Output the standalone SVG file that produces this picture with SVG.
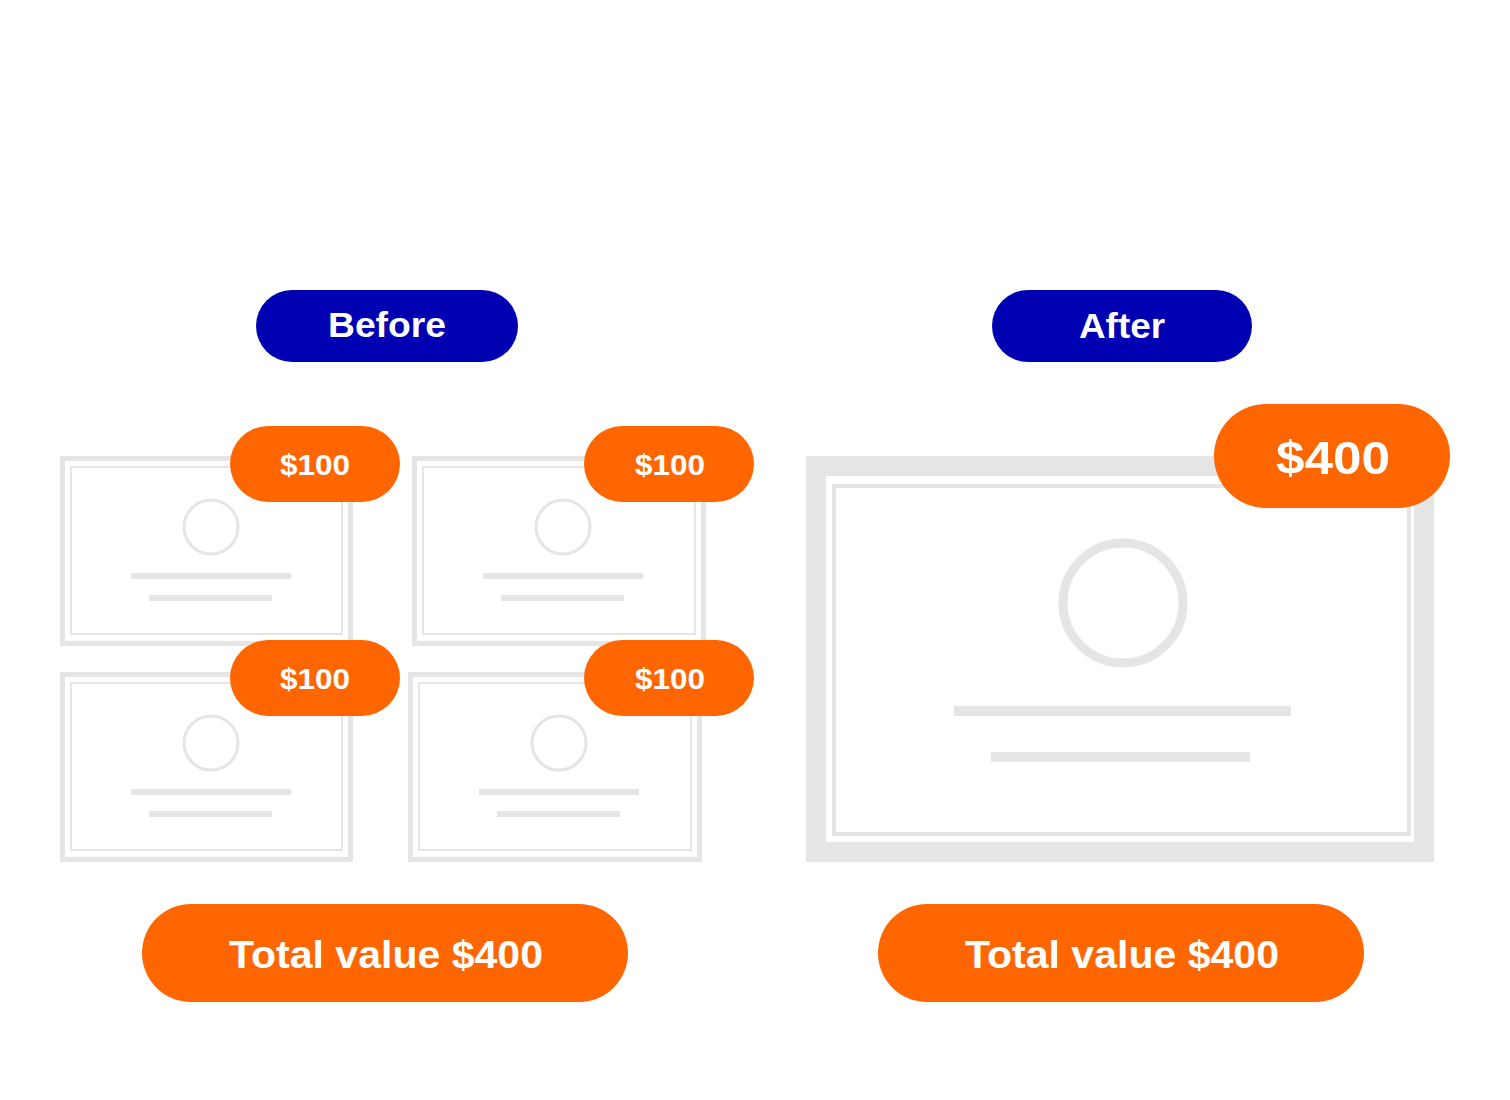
<svg xmlns="http://www.w3.org/2000/svg" width="1510" height="1100" viewBox="0 0 1510 1100">
<defs>
<style>
.frame{fill:none;stroke:#E5E5E5;stroke-width:5}
.inner{fill:none;stroke:#E5E5E5;stroke-width:2}
.ring{fill:none;stroke:#E5E5E5;stroke-width:3}
.bar{fill:#E5E5E5}
.orange{fill:#FF6600}
.blue{fill:#0000B3}
.t{fill:#FFFFFF;font-family:"Liberation Sans",Arial,sans-serif;font-weight:700;text-anchor:middle}
</style>
</defs>
<rect width="1510" height="1100" fill="#FFFFFF"/>
<g id="before-label">
<rect class="blue" x="256" y="290" width="262" height="72" rx="36"/>
<text class="t" x="387" y="337" font-size="35" textLength="118" lengthAdjust="spacingAndGlyphs">Before</text>
</g>
<g id="after-label">
<rect class="blue" x="992" y="290" width="260" height="72" rx="36"/>
<text class="t" x="1122" y="338" font-size="35" textLength="86" lengthAdjust="spacingAndGlyphs">After</text>
</g>
<g id="cert-1">
<rect class="frame" x="62.5" y="458.5" width="288" height="185"/>
<rect class="inner" x="71" y="467" width="271" height="167"/>
<circle class="ring" cx="211" cy="527" r="27"/>
<rect class="bar" x="131" y="573" width="160" height="6"/>
<rect class="bar" x="149" y="595" width="123" height="6"/>
</g>
<g id="cert-2">
<rect class="frame" x="414.5" y="458.5" width="289" height="185"/>
<rect class="inner" x="423" y="467" width="272" height="167"/>
<circle class="ring" cx="563" cy="527" r="27"/>
<rect class="bar" x="483" y="573" width="160" height="6"/>
<rect class="bar" x="501" y="595" width="123" height="6"/>
</g>
<g id="cert-3">
<rect class="frame" x="62.5" y="674.5" width="288" height="185"/>
<rect class="inner" x="71" y="683" width="271" height="167"/>
<circle class="ring" cx="211" cy="743" r="27"/>
<rect class="bar" x="131" y="789" width="160" height="6"/>
<rect class="bar" x="149" y="811" width="123" height="6"/>
</g>
<g id="cert-4">
<rect class="frame" x="410.5" y="674.5" width="289" height="185"/>
<rect class="inner" x="419" y="683" width="272" height="167"/>
<circle class="ring" cx="559" cy="743" r="27"/>
<rect class="bar" x="479" y="789" width="160" height="6"/>
<rect class="bar" x="497" y="811" width="123" height="6"/>
</g>
<g id="badge-1">
<rect class="orange" x="230" y="426" width="170" height="76" rx="38"/>
<text class="t" x="315" y="475" font-size="30" textLength="70" lengthAdjust="spacingAndGlyphs">$100</text>
</g>
<g id="badge-2">
<rect class="orange" x="584" y="426" width="170" height="76" rx="38"/>
<text class="t" x="670" y="475" font-size="30" textLength="70" lengthAdjust="spacingAndGlyphs">$100</text>
</g>
<g id="badge-3">
<rect class="orange" x="230" y="640" width="170" height="76" rx="38"/>
<text class="t" x="315" y="689" font-size="30" textLength="70" lengthAdjust="spacingAndGlyphs">$100</text>
</g>
<g id="badge-4">
<rect class="orange" x="584" y="640" width="170" height="76" rx="38"/>
<text class="t" x="670" y="689" font-size="30" textLength="70" lengthAdjust="spacingAndGlyphs">$100</text>
</g>
<g id="cert-large">
<rect x="816" y="466" width="608" height="386" fill="none" stroke="#E5E5E5" stroke-width="20"/>
<rect x="834" y="486" width="575" height="348" fill="none" stroke="#E5E5E5" stroke-width="4"/>
<circle cx="1123" cy="603" r="60" fill="none" stroke="#E5E5E5" stroke-width="9"/>
<rect class="bar" x="954" y="706" width="337" height="10"/>
<rect class="bar" x="991" y="752" width="259" height="10"/>
</g>
<g id="badge-large">
<rect class="orange" x="1214" y="404" width="236" height="104" rx="52"/>
<text class="t" x="1333" y="474" font-size="47" textLength="114" lengthAdjust="spacingAndGlyphs">$400</text>
</g>
<g id="total-before">
<rect class="orange" x="142" y="904" width="486" height="98" rx="49"/>
<text class="t" x="386" y="968" font-size="39" textLength="314" lengthAdjust="spacingAndGlyphs">Total value $400</text>
</g>
<g id="total-after">
<rect class="orange" x="878" y="904" width="486" height="98" rx="49"/>
<text class="t" x="1122" y="968" font-size="39" textLength="314" lengthAdjust="spacingAndGlyphs">Total value $400</text>
</g>
<g id="connectors"></g>
</svg>
